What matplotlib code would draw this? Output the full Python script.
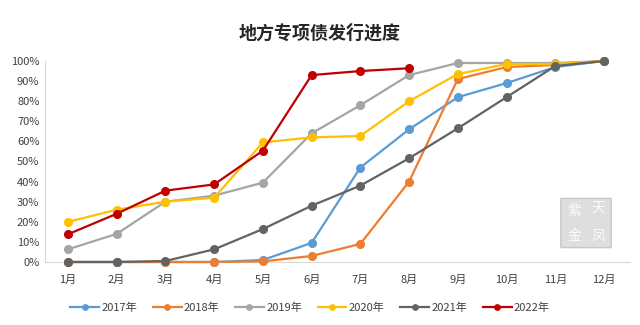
import matplotlib
matplotlib.use("Agg")
import matplotlib.pyplot as plt
from matplotlib.ticker import PercentFormatter, FixedLocator
from matplotlib.patches import FancyBboxPatch

plt.rcParams['font.family'] = ['Noto Sans CJK SC', 'DejaVu Sans']

months = ['1月', '2月', '3月', '4月', '5月', '6月', '7月', '8月', '9月', '10月', '11月', '12月']
series_names = ['2017年', '2018年', '2019年', '2020年', '2021年', '2022年']

s2017 = [0.0, 0.0, 0.0, 0.0, 1.0, 9.5, 47.0, 66.0, 82.0, 89.0, 97.0, 100.0]
s2018 = [0.0, 0.0, 0.0, 0.0, 0.3, 3.0, 9.0, 40.0, 91.0, 97.0, 98.0, 100.0]
s2019 = [6.3, 14.0, 30.0, 33.0, 39.5, 64.0, 78.0, 93.0, 99.0, 99.0, 99.0, 100.0]
s2020 = [20.0, 26.0, 30.0, 32.0, 59.5, 62.0, 62.7, 80.0, 93.5, 98.5, 98.5, 100.0]
s2021 = [0.0, 0.0, 0.5, 6.3, 16.4, 28.0, 38.0, 51.6, 66.5, 82.0, 97.5, 100.0]
s2022 = [13.8, 24.0, 35.5, 38.6, 55.4, 93.0, 95.0, 96.4]

all_series = [s2017, s2018, s2019, s2020, s2021, s2022]
colors = ['#5B9BD5', '#ED7D31', '#A5A5A5', '#FFC000', '#636363', '#C00000']

fig = plt.figure(figsize=(6.4, 3.25), dpi=100)
fig.patch.set_facecolor('white')
ax = fig.add_axes([45 / 640, 1 - 262 / 325, 585 / 640, 201 / 325])

x = list(range(1, 13))
for vals, c, name in zip(all_series, colors, series_names):
    ax.plot(x[:len(vals)], vals, color=c, lw=1.6, marker='o', markersize=5.5,
            label=name, clip_on=False, zorder=3)

step = 11 / 536
ax.set_xlim(1 - 23 * step, 12 + 26 * step)
ax.set_ylim(0, 100)
ax.yaxis.set_major_locator(FixedLocator(range(0, 101, 10)))
ax.yaxis.set_major_formatter(PercentFormatter(decimals=0))
ax.set_xticks(x)
ax.set_xticklabels(months)

for side in ['top', 'right']:
    ax.spines[side].set_visible(False)
for side in ['left', 'bottom']:
    ax.spines[side].set_color('#D9D9D9')
    ax.spines[side].set_linewidth(0.8)
ax.tick_params(axis='both', length=0, labelsize=8, colors='#404040')
ax.tick_params(axis='x', pad=9)
ax.tick_params(axis='y', pad=4)

fig.text(0.5, 0.898, '地方专项债发行进度', ha='center', va='center',
         fontsize=13, fontweight='bold', color='#262626')

# stamp in the lower right corner
stamp = FancyBboxPatch((562 / 640, 1 - 247 / 325), 48 / 640, 48 / 325,
                       boxstyle='round,pad=0.002', transform=fig.transFigure,
                       facecolor='#D0D0D0', edgecolor='#BBBBBB', alpha=0.7, zorder=1)
fig.patches.append(stamp)
for t, (px, py) in zip('紫天金凤', [(574, 211), (598, 208), (574, 236), (598, 236)]):
    fig.text(px / 640, 1 - py / 325, t, ha='center', va='center', fontsize=10,
             color='white', alpha=0.9)

leg = fig.legend(loc='center', bbox_to_anchor=(310 / 640, 1 - 308 / 325), ncol=6,
                 frameon=False, fontsize=8, handlelength=2.6, columnspacing=1.4,
                 handletextpad=0.2, markerscale=0.7)
for t in leg.get_texts():
    t.set_color('#404040')

fig.savefig('out.png', dpi=100, facecolor='white')
